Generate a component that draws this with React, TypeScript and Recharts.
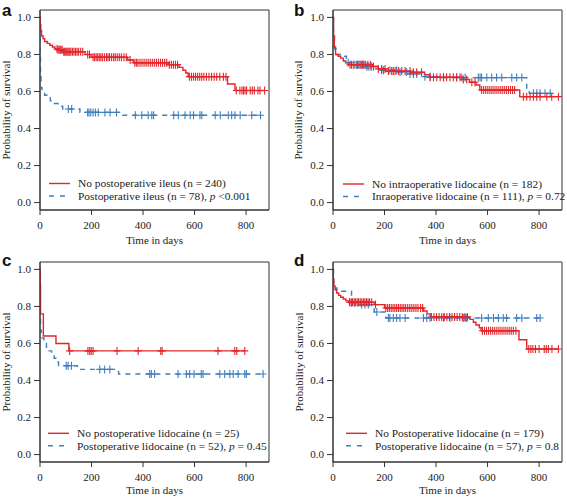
import { LineChart, Line, XAxis, YAxis, ReferenceArea, Label } from 'recharts'

const RED = '#e3262b'
const BLUE = '#3f7fbd'
const SERIF = '"Liberation Serif", "Times New Roman", serif'

const timeTicks = [0, 200, 400, 600, 800]
const survTicks = [0, 0.2, 0.4, 0.6, 0.8, 1.0]

// panel a - postoperative ileus
const aNoIleusSteps = [[0, 1], [1, 0.96], [3, 0.93], [6, 0.9], [12, 0.885], [18, 0.87], [28, 0.86], [38, 0.85], [48, 0.84], [58, 0.83], [68, 0.825], [90, 0.815], [175, 0.8], [198, 0.785], [340, 0.77], [362, 0.755], [498, 0.745], [540, 0.73], [555, 0.715], [566, 0.7], [575, 0.68], [728, 0.64], [757, 0.605]]
const aNoIleusCens = [66, 70, 74, 78, 82, 86, 92, 96, 100, 104, 108, 112, 116, 120, 126, 132, 138, 144, 150, 158, 166, 185, 192, 206, 212, 218, 224, 230, 236, 242, 250, 258, 264, 270, 278, 286, 292, 300, 308, 316, 326, 335, 350, 368, 374, 380, 388, 396, 404, 412, 420, 428, 436, 444, 452, 460, 468, 476, 484, 492, 502, 510, 518, 526, 534, 580, 588, 596, 604, 612, 620, 628, 636, 646, 656, 666, 676, 686, 698, 712, 722, 762, 776, 784, 790, 796, 802, 816, 824, 832, 846, 854, 872]
const aIleusSteps = [[0, 1], [1, 0.8], [2, 0.68], [4, 0.62], [8, 0.6], [18, 0.58], [28, 0.565], [40, 0.55], [55, 0.535], [70, 0.52], [88, 0.505], [155, 0.487], [310, 0.472]]
const aIleusCens = [110, 123, 185, 190, 197, 206, 215, 226, 252, 272, 297, 370, 395, 420, 434, 441, 519, 537, 563, 583, 596, 621, 628, 680, 700, 731, 744, 757, 777, 822, 856]

// panel b - intraoperative lidocaine
const bNoIntraSteps = [[0, 1], [2, 0.9], [5, 0.84], [10, 0.8], [20, 0.79], [30, 0.78], [40, 0.765], [50, 0.755], [62, 0.745], [155, 0.735], [175, 0.722], [205, 0.71], [300, 0.704], [355, 0.69], [375, 0.677], [500, 0.665], [530, 0.65], [555, 0.635], [570, 0.608], [725, 0.572]]
const bNoIntraCens = [66, 72, 85, 95, 105, 115, 125, 135, 145, 157, 176, 189, 202, 215, 228, 234, 241, 254, 267, 280, 299, 312, 325, 344, 377, 390, 403, 416, 429, 441, 454, 467, 480, 493, 506, 519, 539, 551, 577, 585, 593, 601, 609, 617, 625, 633, 641, 649, 657, 665, 673, 681, 689, 697, 705, 739, 752, 765, 778, 791, 804, 830, 849, 875]
const bIntraSteps = [[0, 1], [2, 0.9], [6, 0.83], [12, 0.8], [45, 0.79], [52, 0.77], [58, 0.755], [75, 0.745], [130, 0.735], [175, 0.715], [255, 0.705], [290, 0.695], [355, 0.68], [410, 0.675], [752, 0.605], [762, 0.59]]
const bIntraCens = [59, 79, 92, 98, 105, 111, 118, 124, 131, 137, 144, 150, 189, 196, 221, 247, 260, 286, 299, 312, 325, 357, 377, 429, 480, 500, 513, 564, 571, 577, 597, 616, 635, 655, 694, 713, 733, 778, 791, 804, 823, 843]

// panel c - postoperative lidocaine (ileus patients)
const cNoPostSteps = [[0, 1], [1, 0.92], [2, 0.76], [13, 0.64], [62, 0.6], [112, 0.56]]
const cNoPostCens = [115, 186, 193, 199, 206, 299, 381, 469, 474, 691, 756, 764, 795]
const cPostSteps = [[0, 1], [1, 0.73], [2, 0.67], [5, 0.63], [15, 0.6], [25, 0.58], [35, 0.56], [45, 0.54], [55, 0.52], [62, 0.5], [72, 0.48], [145, 0.46], [305, 0.435]]
const cPostCens = [102, 109, 122, 232, 251, 271, 426, 432, 445, 536, 568, 581, 598, 626, 633, 698, 717, 737, 750, 769, 795, 801, 866]

// panel d - postoperative lidocaine (no ileus)
const dNoPostSteps = [[0, 1], [1, 0.95], [3, 0.91], [8, 0.89], [14, 0.873], [22, 0.86], [30, 0.85], [40, 0.84], [50, 0.83], [60, 0.823], [160, 0.81], [200, 0.792], [352, 0.775], [365, 0.76], [378, 0.743], [532, 0.73], [545, 0.715], [555, 0.7], [568, 0.685], [575, 0.669], [722, 0.62], [752, 0.57]]
const dNoPostCens = [64, 70, 76, 82, 88, 94, 100, 106, 112, 118, 124, 130, 136, 142, 150, 165, 205, 212, 219, 226, 233, 240, 247, 254, 261, 268, 275, 282, 290, 298, 306, 314, 322, 330, 340, 348, 382, 392, 402, 412, 422, 432, 442, 452, 462, 472, 482, 492, 502, 512, 522, 580, 588, 596, 604, 612, 620, 628, 636, 644, 652, 660, 668, 676, 684, 692, 700, 710, 760, 768, 776, 786, 800, 820, 828, 836, 850, 875]
const dPostSteps = [[0, 1], [2, 0.93], [5, 0.9], [15, 0.882], [72, 0.82], [100, 0.81], [160, 0.77], [205, 0.738]]
const dPostCens = [72, 85, 98, 111, 124, 137, 170, 215, 221, 234, 247, 260, 280, 351, 364, 377, 429, 454, 506, 513, 519, 577, 603, 623, 642, 661, 674, 713, 733, 791, 804]

type Pt = { t: number; s: number; c: boolean }

// merge event steps and censor times into one step series
function km(steps: number[][], cens: number[]): Pt[] {
  const pts: Pt[] = steps.map(([t, s]) => ({ t, s, c: false }))
  cens.forEach((t) => {
    let s = steps[0][1]
    for (const [st, sv] of steps) if (st <= t) s = sv
    pts.push({ t, s, c: true })
  })
  return pts.sort((a, b) => a.t - b.t)
}

const censorDot = (color: string) => (props: any) => {
  const { cx, cy, payload, index } = props
  if (!payload || !payload.c) return <g key={index} />
  return (
    <path
      key={index}
      d={`M${cx - 3.5},${cy}h7M${cx},${cy - 4}v8`}
      stroke={color}
      strokeWidth={1.1}
      strokeDasharray="0"
      fill="none"
    />
  )
}

const tickStyle = { fontFamily: SERIF, fontSize: 11, fill: '#222' }
const legendStyle = { fontFamily: SERIF, fontSize: 11.4, fill: '#222' }

interface PanelProps {
  left: number
  top: number
  width: number
  height: number
  axisW: number
  plotTop: number
  letter: string
  letterX: number
  red: Pt[]
  blue: Pt[]
  redLabel: string
  blueLabel: string
  pText: string
  legX: number
  legY: number
  yLabelOffset: number
  xLabelOffset: number
}

function Panel(p: PanelProps) {
  const plotH = 200
  const plotW = 229
  return (
    <div style={{ position: 'absolute', left: p.left, top: p.top, width: p.width, height: p.height }}>
      <LineChart
        width={p.width}
        height={p.height}
        margin={{ top: p.plotTop, right: p.width - p.axisW - plotW, left: 0, bottom: 0 }}
      >
        <XAxis
          dataKey="t"
          type="number"
          domain={[0, 889]}
          allowDataOverflow
          ticks={timeTicks}
          height={p.height - p.plotTop - plotH}
          tickSize={5}
          tickMargin={6}
          stroke="#333"
          tick={tickStyle}
        >
          <Label value="Time in days" position="insideBottom" offset={p.xLabelOffset} style={{ fontFamily: SERIF, fontSize: 11, fill: '#222' }} />
        </XAxis>
        <YAxis
          type="number"
          domain={[-0.04, 1.04]}
          allowDataOverflow
          ticks={survTicks}
          tickFormatter={(v: number) => v.toFixed(1)}
          width={p.axisW}
          tickSize={6}
          tickMargin={3}
          stroke="#333"
          tick={tickStyle}
        >
          <Label
            value="Probability of survival"
            angle={-90}
            position="insideLeft"
            offset={p.yLabelOffset}
            style={{ fontFamily: SERIF, fontSize: 11, fill: '#222', textAnchor: 'middle' }}
          />
        </YAxis>
        <ReferenceArea x1={0} x2={889} y1={-0.04} y2={1.04} fill="none" stroke="#333" strokeWidth={1} ifOverflow="visible" />
        <Line
          data={p.blue}
          dataKey="s"
          type="stepAfter"
          stroke={BLUE}
          strokeWidth={1.4}
          strokeDasharray="5 5"
          dot={censorDot(BLUE)}
          activeDot={false}
          isAnimationActive={false}
        />
        <Line
          data={p.red}
          dataKey="s"
          type="stepAfter"
          stroke={RED}
          strokeWidth={1.4}
          dot={censorDot(RED)}
          activeDot={false}
          isAnimationActive={false}
        />
      </LineChart>
      <svg style={{ position: 'absolute', left: 0, top: 0, overflow: 'visible' }} width={p.width} height={p.height}>
        <text
          x={p.letterX}
          y={16}
          style={{ fontFamily: '"Liberation Sans", Arial, sans-serif', fontWeight: 'bold', fontSize: 17, fill: '#111' }}
        >
          {p.letter}
        </text>
        <line x1={p.legX} x2={p.legX + 21} y1={p.legY} y2={p.legY} stroke={RED} strokeWidth={1.4} />
        <line x1={p.legX} x2={p.legX + 21} y1={p.legY + 12.5} y2={p.legY + 12.5} stroke={BLUE} strokeWidth={1.4} strokeDasharray="5 6" />
        <text x={p.legX + 29} y={p.legY + 3.9} style={legendStyle}>
          {p.redLabel}
        </text>
        <text x={p.legX + 29} y={p.legY + 16.4} style={legendStyle}>
          {p.blueLabel}, <tspan fontStyle="italic">p</tspan> {p.pText}
        </text>
      </svg>
    </div>
  )
}

export default function App() {
  return (
    <div style={{ position: 'absolute', left: 0, top: 0, width: 567, height: 499, background: '#fff' }}>
      <Panel
        left={0} top={0} width={283} height={250} axisW={40} plotTop={10}
        letter="a" letterX={2}
        red={km(aNoIleusSteps, aNoIleusCens)} blue={km(aIleusSteps, aIleusCens)}
        redLabel="No postoperative ileus (n = 240)" blueLabel="Postoperative ileus (n = 78)" pText="<0.001"
        legX={49} legY={183.5} yLabelOffset={6} xLabelOffset={6}
      />
      <Panel
        left={283} top={0} width={284} height={250} axisW={50} plotTop={10}
        letter="b" letterX={11}
        red={km(bNoIntraSteps, bNoIntraCens)} blue={km(bIntraSteps, bIntraCens)}
        redLabel="No intraoperative lidocaine (n = 182)" blueLabel="Inraoperative lidocaine (n = 111)" pText="= 0.72"
        legX={60} legY={184} yLabelOffset={15} xLabelOffset={6}
      />
      <Panel
        left={0} top={250} width={283} height={249} axisW={40} plotTop={12}
        letter="c" letterX={2}
        red={km(cNoPostSteps, cNoPostCens)} blue={km(cPostSteps, cPostCens)}
        redLabel="No postoperative lidocaine (n = 25)" blueLabel="Postoperative lidocaine (n = 52)" pText="= 0.45"
        legX={48} legY={183.3} yLabelOffset={6} xLabelOffset={5}
      />
      <Panel
        left={283} top={250} width={284} height={249} axisW={50} plotTop={12}
        letter="d" letterX={11}
        red={km(dNoPostSteps, dNoPostCens)} blue={km(dPostSteps, dPostCens)}
        redLabel="No Postoperative lidocaine (n = 179)" blueLabel="Postoperative lidocaine (n = 57)" pText="= 0.8"
        legX={63} legY={183.3} yLabelOffset={16} xLabelOffset={5}
      />
    </div>
  )
}
